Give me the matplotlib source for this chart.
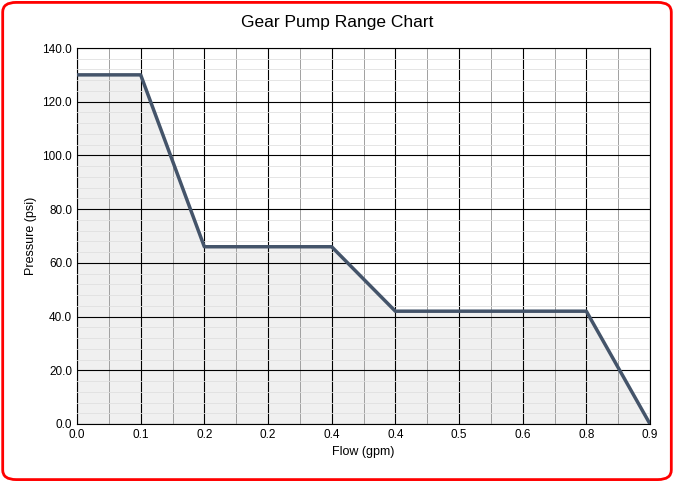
import matplotlib.pyplot as plt
from matplotlib.patches import FancyBboxPatch
from matplotlib.ticker import MultipleLocator

plt.rcParams['font.family'] = ['Liberation Sans', 'DejaVu Sans']

# data (x in tick-slot units, labels as shown)
x_pos = [0, 1, 2, 4, 5, 8, 9]
pressure = [130, 130, 66, 66, 42, 42, 0]
x_labels = ["0.0", "0.1", "0.2", "0.2", "0.4", "0.4", "0.5", "0.6", "0.8", "0.9"]
y_ticks = [0, 20, 40, 60, 80, 100, 120, 140]

fig = plt.figure(figsize=(6.74, 4.82), dpi=100)
fig.patches.append(FancyBboxPatch((0.004, 0.005), 0.992, 0.99, boxstyle="round,pad=0,rounding_size=0.02",
                                  transform=fig.transFigure, fill=False, edgecolor="red", linewidth=2))
ax = fig.add_axes([77/674, 1 - 424/482, 573/674, 376/482])

ax.fill_between(x_pos, pressure, color="#f0f0f0", zorder=1)
ax.plot(x_pos, pressure, color="#44546a", linewidth=2.5, zorder=3)

ax.set_xlim(0, 9)
ax.set_ylim(0, 140)
ax.set_xticks(range(10))
ax.set_xticklabels(x_labels)
ax.set_yticks(y_ticks)
ax.set_yticklabels([f"{v:.1f}" for v in y_ticks])
ax.xaxis.set_minor_locator(MultipleLocator(0.5))
ax.yaxis.set_minor_locator(MultipleLocator(4))
ax.grid(which="major", color="black", linewidth=0.8, zorder=2)
ax.grid(which="minor", axis="x", color="#a0a0a0", linewidth=0.7, zorder=2)
ax.grid(which="minor", axis="y", color="#e0e0e0", linewidth=0.6, zorder=2)
ax.set_axisbelow(False)
ax.tick_params(which="both", length=0, labelsize=8.5)
for s in ax.spines.values():
    s.set_color("black")

ax.set_xlabel("Flow (gpm)", fontsize=9)
ax.set_ylabel("Pressure (psi)", fontsize=9)
fig.text(0.5, 0.945, "Gear Pump Range Chart", ha="center", fontsize=12.5)

fig.savefig("out.png", dpi=100)
